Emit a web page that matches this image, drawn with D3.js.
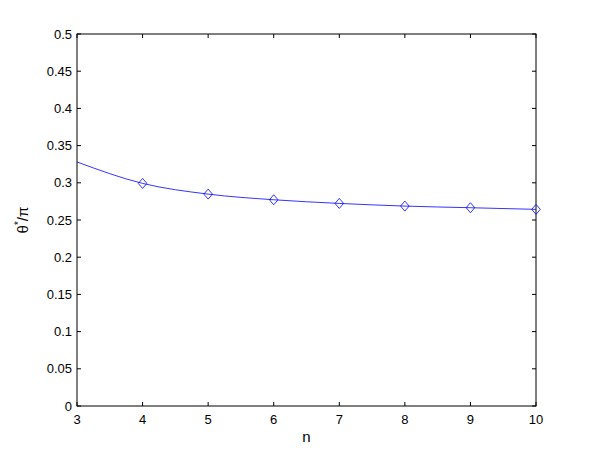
<!DOCTYPE html>
<html>
<head>
<meta charset="utf-8">
<script src="https://cdn.jsdelivr.net/npm/d3@7"></script>
<style>
  body { margin: 0; background: #fff; }
  text { font-family: "Liberation Sans", Arial, sans-serif; }
</style>
</head>
<body>
<svg width="591" height="457"></svg>
<script>
// values
var nValues = [3, 4, 5, 6, 7, 8, 9, 10];
var thetaValues = [0.328, 0.2992, 0.2848, 0.2772, 0.2723, 0.2687, 0.2665, 0.2643];
var markerN = [4, 5, 6, 7, 8, 9, 10];
var xTicks = [3, 4, 5, 6, 7, 8, 9, 10];
var yTicks = [0, 0.05, 0.1, 0.15, 0.2, 0.25, 0.3, 0.35, 0.4, 0.45, 0.5];

var svg = d3.select("svg");
var margin = {left: 77, right: 55, top: 34, bottom: 51};
var width = svg.attr("width") - margin.left - margin.right;
var height = svg.attr("height") - margin.top - margin.bottom;

var x = d3.scaleLinear().domain([3, 10]).range([margin.left, margin.left + width]);
var y = d3.scaleLinear().domain([0, 0.5]).range([margin.top + height, margin.top]);

var data = [];
for (var i = 0; i < nValues.length; i++) {
    data.push({n: nValues[i], theta: thetaValues[i]});
}

var line = d3.line()
            .curve(d3.curveMonotoneX)
            .x(function(d) {return x(d.n)})
            .y(function(d) {return y(d.theta)});

var g = svg.append("g");

// box
g.append("rect")
    .attr("x", x(3))
    .attr("y", y(0.5))
    .attr("width", x(10) - x(3))
    .attr("height", y(0) - y(0.5))
    .style("fill", "none")
    .style("stroke", "#000")
    .style("stroke-width", 1);

// ticks pointing inward, on both sides
var tickLen = 4;
g.selectAll(".xtick-b").data(xTicks).enter().append("line")
    .attr("x1", function(d) {return x(d)}).attr("x2", function(d) {return x(d)})
    .attr("y1", y(0)).attr("y2", y(0) - tickLen)
    .style("stroke", "#000");
g.selectAll(".xtick-t").data(xTicks).enter().append("line")
    .attr("x1", function(d) {return x(d)}).attr("x2", function(d) {return x(d)})
    .attr("y1", y(0.5)).attr("y2", y(0.5) + tickLen)
    .style("stroke", "#000");
g.selectAll(".ytick-l").data(yTicks).enter().append("line")
    .attr("x1", x(3)).attr("x2", x(3) + tickLen)
    .attr("y1", function(d) {return y(d)}).attr("y2", function(d) {return y(d)})
    .style("stroke", "#000");
g.selectAll(".ytick-r").data(yTicks).enter().append("line")
    .attr("x1", x(10)).attr("x2", x(10) - tickLen)
    .attr("y1", function(d) {return y(d)}).attr("y2", function(d) {return y(d)})
    .style("stroke", "#000");

// tick labels
g.selectAll(".xlabel").data(xTicks).enter().append("text")
    .attr("x", function(d) {return x(d)})
    .attr("y", y(0) + 18)
    .attr("text-anchor", "middle")
    .style("font-size", "13px")
    .text(function(d) {return d});

g.selectAll(".ylabel").data(yTicks).enter().append("text")
    .attr("x", x(3) - 5)
    .attr("y", function(d) {return y(d)})
    .attr("dy", "0.35em")
    .attr("text-anchor", "end")
    .style("font-size", "13px")
    .text(function(d) {return d3.format("")(+d.toFixed(2))});

// axis titles
g.append("text")
    .attr("x", (x(3) + x(10)) / 2)
    .attr("y", y(0) + 36)
    .attr("text-anchor", "middle")
    .style("font-size", "15px")
    .text("n");

var yTitle = g.append("text")
    .attr("transform", "translate(" + 28 + "," + ((y(0) + y(0.5)) / 2) + ") rotate(-90)")
    .attr("text-anchor", "middle")
    .style("font-size", "15px");
yTitle.append("tspan").text("θ");
yTitle.append("tspan").attr("dy", -6).style("font-size", "10px").text("*");
yTitle.append("tspan").attr("dy", 6).text("/π");

// curve
g.append("path")
    .attr("d", line(data))
    .style("fill", "none")
    .style("stroke", "#0000ff")
    .style("stroke-width", 0.8);

// diamond markers
var markers = data.filter(function(d) {return markerN.indexOf(d.n) >= 0});
g.selectAll(".marker").data(markers).enter().append("path")
    .attr("d", function(d) {
        var cx = x(d.n), cy = y(d.theta), w = 4.3, h = 5;
        return "M" + cx + "," + (cy - h) + "L" + (cx + w) + "," + cy +
               "L" + cx + "," + (cy + h) + "L" + (cx - w) + "," + cy + "Z";
    })
    .style("fill", "none")
    .style("stroke", "#0000ff")
    .style("stroke-width", 0.8);
</script>
</body>
</html>
